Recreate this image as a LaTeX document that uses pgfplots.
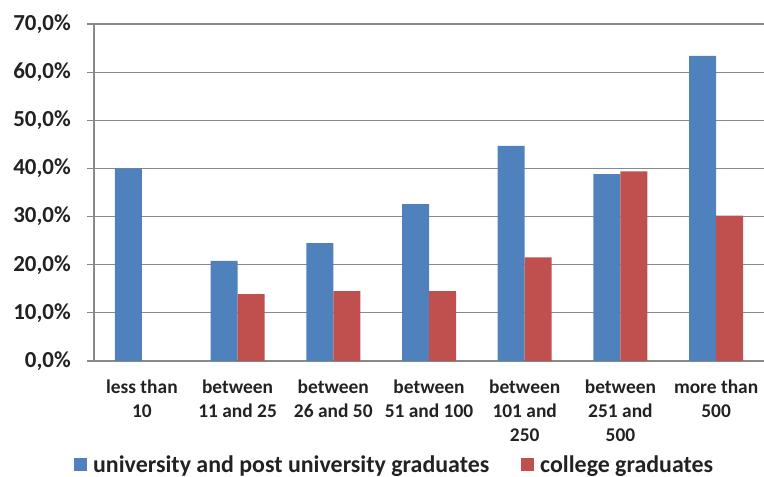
\documentclass[border=0pt]{standalone}
\usepackage{pgfplots}
\pgfplotsset{compat=1.18}
\usepackage{fontspec}
\setmainfont{Carlito}
\definecolor{barblue}{HTML}{4F81BD}
\definecolor{barred}{HTML}{C0504D}
\definecolor{gridgray}{HTML}{898989}
\definecolor{txt}{HTML}{222222}
\begin{document}
\begin{tikzpicture}[x=1bp,y=1bp]
\useasboundingbox (-94bp,-116bp) rectangle (670bp,361bp);
\begin{axis}[
  at={(0,0)}, anchor=south west,
  scale only axis,
  width=670bp, height=337bp,
  ybar=0pt, bar width=27bp,
  xmin=-0.5, xmax=6.5,
  ymin=0, ymax=70,
  xtick={0,...,6},
  xticklabels={less than\\10, between\\11 and 25, between\\26 and 50, between\\51 and 100, between\\101 and\\250, between\\251 and\\500, more than\\500},
  x tick label style={align=center, font=\fontsize{19.5}{24}\selectfont\bfseries, text=txt, inner sep=0pt, yshift=-12bp},
  major x tick style={draw=none},
  ytick={0,10,...,70},
  yticklabel={\pgfmathprintnumber[fixed,fixed zerofill,precision=1,use comma]{\tick}\%},
  /pgf/number format/assume math mode=true,
  y tick label style={font=\fontsize{23}{26}\selectfont\bfseries, text=txt, inner sep=0pt, xshift=-16bp},
  tick align=outside,
  major tick length=7bp,
  ytick style={gridgray, line width=1.2bp},
  ymajorgrids,
  grid style={gridgray, line width=1.2bp},
  axis x line*=bottom, axis y line*=left,
  axis line style={gridgray, line width=1.5bp},
  legend style={at={(-0.0299,-0.308)}, anchor=west, draw=none, fill=none, inner sep=0pt,
    legend columns=2, font=\fontsize{24}{28}\selectfont\bfseries, text=txt,
    nodes={inner sep=0pt},
    /tikz/every odd column/.append style={column sep=6bp},
    /tikz/every even column/.append style={column sep=32bp}},
  legend image code/.code={\fill[#1] (0bp,-6.5bp) rectangle (13bp,6.5bp);},
]
\addplot[fill=barblue, draw=none] coordinates {(0,40.0) (1,20.8) (2,24.5) (3,32.6) (4,44.7) (5,38.8) (6,63.4)};
\addplot[fill=barred, draw=none] coordinates {(1,13.9) (2,14.5) (3,14.5) (4,21.5) (5,39.4) (6,30.2)};
\legend{university and post university graduates, college graduates}
\end{axis}
\end{tikzpicture}
\end{document}
